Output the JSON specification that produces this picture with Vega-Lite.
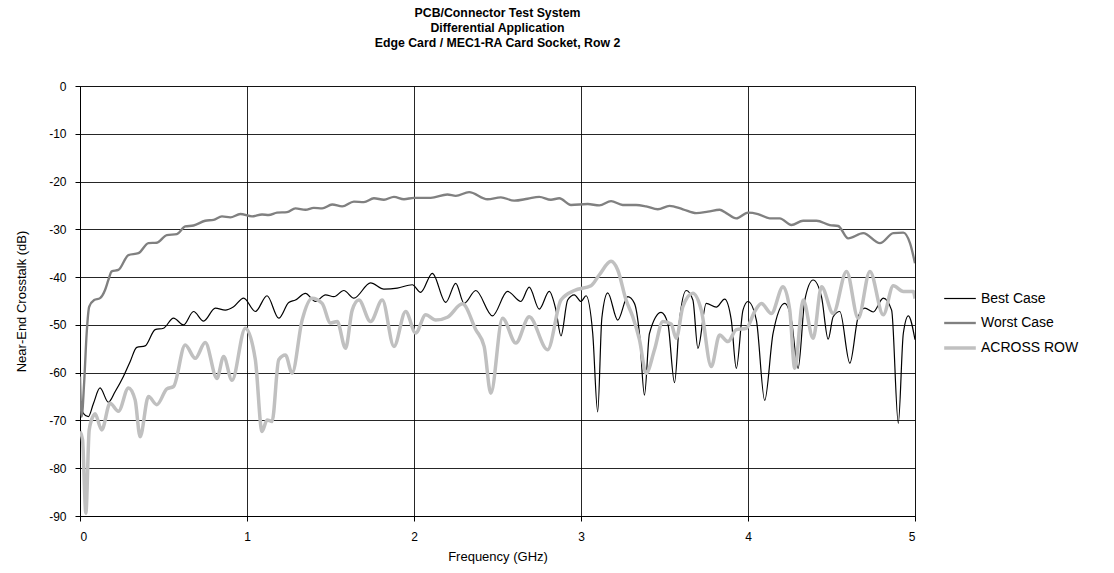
{
  "$schema": "https://vega.github.io/schema/vega-lite/v6.json",
  "autosize": {"type": "none"},
  "width": 835,
  "height": 430,
  "padding": {"left": 80, "top": 86, "right": 199, "bottom": 57},
  "background": "white",
  "title": {
    "text": ["PCB/Connector Test System", "Differential Application", "Edge Card / MEC1-RA Card Socket, Row 2"],
    "anchor": "middle",
    "font": "Liberation Sans",
    "fontSize": 12.3,
    "fontWeight": "bold",
    "lineHeight": 15,
    "color": "#000000",
    "offset": 31
  },
  "config": {
    "view": {"stroke": "#808080", "strokeWidth": 1},
    "axis": {
      "labelFont": "Liberation Sans",
      "titleFont": "Liberation Sans",
      "labelFontSize": 12,
      "titleFontSize": 13,
      "titleFontWeight": "normal",
      "labelColor": "#000000",
      "titleColor": "#000000",
      "domainColor": "#000000",
      "tickColor": "#000000",
      "gridColor": "#000000",
      "gridOpacity": 0.85,
      "tickSize": 5
    },
    "legend": {
      "labelFont": "Liberation Sans",
      "labelFontSize": 14,
      "labelColor": "#000000"
    }
  },
  "datasets": {
    "best": [
      {"f": 0.0, "db": -66.5}, {"f": 0.02, "db": -68.5}, {"f": 0.05, "db": -69.2}, {"f": 0.08, "db": -66.5},
      {"f": 0.12, "db": -63.2}, {"f": 0.17, "db": -66.2}, {"f": 0.21, "db": -64.0}, {"f": 0.26, "db": -60.8},
      {"f": 0.30, "db": -57.7}, {"f": 0.34, "db": -54.7}, {"f": 0.39, "db": -54.4}, {"f": 0.45, "db": -51.0},
      {"f": 0.50, "db": -50.7}, {"f": 0.56, "db": -48.6}, {"f": 0.62, "db": -50.0}, {"f": 0.68, "db": -47.2},
      {"f": 0.74, "db": -49.2}, {"f": 0.81, "db": -46.5}, {"f": 0.87, "db": -46.9}, {"f": 0.92, "db": -46.2},
      {"f": 0.98, "db": -44.4}, {"f": 1.05, "db": -47.2}, {"f": 1.12, "db": -43.9}, {"f": 1.19, "db": -48.6},
      {"f": 1.25, "db": -45.3}, {"f": 1.29, "db": -44.8}, {"f": 1.35, "db": -43.4}, {"f": 1.41, "db": -45.1},
      {"f": 1.47, "db": -43.7}, {"f": 1.52, "db": -44.1}, {"f": 1.58, "db": -42.8}, {"f": 1.64, "db": -44.4},
      {"f": 1.74, "db": -41.2}, {"f": 1.82, "db": -42.5}, {"f": 1.90, "db": -42.3}, {"f": 1.99, "db": -41.6},
      {"f": 2.04, "db": -43.2}, {"f": 2.11, "db": -39.2}, {"f": 2.19, "db": -45.3}, {"f": 2.25, "db": -41.3},
      {"f": 2.30, "db": -45.5}, {"f": 2.37, "db": -42.8}, {"f": 2.47, "db": -48.1}, {"f": 2.56, "db": -43.0},
      {"f": 2.64, "db": -45.1}, {"f": 2.69, "db": -42.1}, {"f": 2.75, "db": -46.7}, {"f": 2.81, "db": -43.0},
      {"f": 2.85, "db": -46.9}, {"f": 2.88, "db": -52.3}, {"f": 2.92, "db": -44.8}, {"f": 2.96, "db": -43.7},
      {"f": 3.00, "db": -45.1}, {"f": 3.03, "db": -43.9}, {"f": 3.07, "db": -51.7}, {"f": 3.10, "db": -68.2},
      {"f": 3.125, "db": -48.5}, {"f": 3.16, "db": -43.3}, {"f": 3.22, "db": -49.0}, {"f": 3.28, "db": -44.1},
      {"f": 3.32, "db": -45.5}, {"f": 3.35, "db": -51.8}, {"f": 3.38, "db": -64.7}, {"f": 3.41, "db": -51.8},
      {"f": 3.48, "db": -47.4}, {"f": 3.52, "db": -49.7}, {"f": 3.56, "db": -62.1}, {"f": 3.59, "db": -49.0},
      {"f": 3.63, "db": -42.8}, {"f": 3.67, "db": -44.8}, {"f": 3.70, "db": -54.9}, {"f": 3.75, "db": -45.5},
      {"f": 3.81, "db": -46.3}, {"f": 3.86, "db": -44.6}, {"f": 3.90, "db": -49.0}, {"f": 3.93, "db": -59.1},
      {"f": 3.97, "db": -46.9}, {"f": 4.00, "db": -45.1}, {"f": 4.05, "db": -49.0}, {"f": 4.10, "db": -65.8},
      {"f": 4.15, "db": -51.8}, {"f": 4.22, "db": -45.5}, {"f": 4.26, "db": -49.0}, {"f": 4.30, "db": -59.1},
      {"f": 4.34, "db": -44.8}, {"f": 4.39, "db": -40.6}, {"f": 4.44, "db": -44.1}, {"f": 4.48, "db": -53.0},
      {"f": 4.51, "db": -48.3}, {"f": 4.55, "db": -47.2}, {"f": 4.61, "db": -58.0}, {"f": 4.66, "db": -48.3},
      {"f": 4.70, "db": -46.5}, {"f": 4.75, "db": -47.3}, {"f": 4.81, "db": -44.4}, {"f": 4.86, "db": -46.9},
      {"f": 4.90, "db": -70.6}, {"f": 4.93, "db": -51.8}, {"f": 4.96, "db": -48.1}, {"f": 5.00, "db": -53.1}
    ],
    "worst": [
      {"f": 0.0, "db": -60.8}, {"f": 0.01, "db": -69.2}, {"f": 0.025, "db": -62.0}, {"f": 0.04, "db": -51.7},
      {"f": 0.055, "db": -46.2}, {"f": 0.085, "db": -44.8}, {"f": 0.12, "db": -44.4}, {"f": 0.15, "db": -42.7},
      {"f": 0.17, "db": -40.6}, {"f": 0.19, "db": -38.8}, {"f": 0.23, "db": -38.5}, {"f": 0.29, "db": -35.4},
      {"f": 0.35, "db": -35.0}, {"f": 0.41, "db": -32.9}, {"f": 0.46, "db": -32.8}, {"f": 0.52, "db": -31.2},
      {"f": 0.58, "db": -31.0}, {"f": 0.63, "db": -29.4}, {"f": 0.68, "db": -29.2}, {"f": 0.75, "db": -28.2},
      {"f": 0.80, "db": -28.0}, {"f": 0.85, "db": -27.3}, {"f": 0.90, "db": -27.5}, {"f": 0.96, "db": -26.8},
      {"f": 1.03, "db": -27.3}, {"f": 1.09, "db": -26.9}, {"f": 1.13, "db": -27.0}, {"f": 1.18, "db": -26.5},
      {"f": 1.24, "db": -26.4}, {"f": 1.29, "db": -25.6}, {"f": 1.35, "db": -25.9}, {"f": 1.40, "db": -25.5},
      {"f": 1.45, "db": -25.6}, {"f": 1.51, "db": -24.8}, {"f": 1.57, "db": -25.2}, {"f": 1.64, "db": -24.2},
      {"f": 1.70, "db": -24.3}, {"f": 1.76, "db": -23.5}, {"f": 1.82, "db": -23.8}, {"f": 1.88, "db": -23.2},
      {"f": 1.94, "db": -23.7}, {"f": 2.00, "db": -23.4}, {"f": 2.10, "db": -23.4}, {"f": 2.20, "db": -22.7},
      {"f": 2.25, "db": -23.0}, {"f": 2.33, "db": -22.2}, {"f": 2.44, "db": -23.7}, {"f": 2.52, "db": -23.3},
      {"f": 2.60, "db": -24.0}, {"f": 2.68, "db": -23.6}, {"f": 2.75, "db": -23.2}, {"f": 2.82, "db": -23.8},
      {"f": 2.87, "db": -23.5}, {"f": 2.94, "db": -24.9}, {"f": 3.04, "db": -24.7}, {"f": 3.11, "db": -25.0},
      {"f": 3.18, "db": -24.1}, {"f": 3.25, "db": -24.9}, {"f": 3.33, "db": -24.9}, {"f": 3.39, "db": -25.2},
      {"f": 3.46, "db": -25.8}, {"f": 3.53, "db": -25.1}, {"f": 3.61, "db": -25.8}, {"f": 3.69, "db": -26.6},
      {"f": 3.76, "db": -26.3}, {"f": 3.83, "db": -25.9}, {"f": 3.87, "db": -26.6}, {"f": 3.93, "db": -27.7},
      {"f": 4.00, "db": -26.5}, {"f": 4.06, "db": -26.8}, {"f": 4.13, "db": -27.7}, {"f": 4.19, "db": -27.7},
      {"f": 4.26, "db": -29.1}, {"f": 4.33, "db": -28.2}, {"f": 4.41, "db": -28.2}, {"f": 4.49, "db": -29.1},
      {"f": 4.54, "db": -29.3}, {"f": 4.60, "db": -31.9}, {"f": 4.69, "db": -30.8}, {"f": 4.79, "db": -32.9},
      {"f": 4.87, "db": -30.8}, {"f": 4.93, "db": -30.7}, {"f": 4.97, "db": -32.9}, {"f": 5.00, "db": -37.1}
    ],
    "across": [
      {"f": 0.0, "db": -72.3}, {"f": 0.015, "db": -74.0}, {"f": 0.035, "db": -89.4}, {"f": 0.055, "db": -72.0},
      {"f": 0.08, "db": -69.0}, {"f": 0.09, "db": -68.6}, {"f": 0.13, "db": -72.0}, {"f": 0.18, "db": -66.4},
      {"f": 0.23, "db": -68.1}, {"f": 0.29, "db": -63.2}, {"f": 0.33, "db": -65.7}, {"f": 0.36, "db": -73.4},
      {"f": 0.41, "db": -65.0}, {"f": 0.46, "db": -66.7}, {"f": 0.52, "db": -63.4}, {"f": 0.56, "db": -62.9},
      {"f": 0.63, "db": -54.2}, {"f": 0.69, "db": -57.0}, {"f": 0.75, "db": -53.7}, {"f": 0.82, "db": -61.2},
      {"f": 0.86, "db": -56.6}, {"f": 0.91, "db": -61.6}, {"f": 0.99, "db": -50.7}, {"f": 1.05, "db": -57.3},
      {"f": 1.09, "db": -72.3}, {"f": 1.12, "db": -69.9}, {"f": 1.15, "db": -70.2}, {"f": 1.19, "db": -57.3},
      {"f": 1.23, "db": -56.3}, {"f": 1.27, "db": -60.1}, {"f": 1.33, "db": -49.0}, {"f": 1.39, "db": -44.4},
      {"f": 1.45, "db": -45.5}, {"f": 1.50, "db": -49.6}, {"f": 1.54, "db": -49.3}, {"f": 1.59, "db": -54.9},
      {"f": 1.63, "db": -46.9}, {"f": 1.67, "db": -44.8}, {"f": 1.74, "db": -49.3}, {"f": 1.81, "db": -44.8},
      {"f": 1.88, "db": -54.5}, {"f": 1.95, "db": -47.2}, {"f": 2.01, "db": -51.7}, {"f": 2.07, "db": -47.9},
      {"f": 2.13, "db": -49.0}, {"f": 2.20, "db": -48.4}, {"f": 2.29, "db": -45.6}, {"f": 2.37, "db": -51.0},
      {"f": 2.42, "db": -54.5}, {"f": 2.46, "db": -64.3}, {"f": 2.53, "db": -48.6}, {"f": 2.61, "db": -53.8},
      {"f": 2.69, "db": -48.3}, {"f": 2.80, "db": -55.2}, {"f": 2.88, "db": -44.8}, {"f": 2.96, "db": -42.8},
      {"f": 3.06, "db": -41.8}, {"f": 3.11, "db": -39.5}, {"f": 3.18, "db": -36.7}, {"f": 3.22, "db": -38.5},
      {"f": 3.27, "db": -44.8}, {"f": 3.31, "db": -48.3}, {"f": 3.35, "db": -53.1}, {"f": 3.39, "db": -60.1},
      {"f": 3.44, "db": -55.2}, {"f": 3.49, "db": -49.3}, {"f": 3.54, "db": -49.8}, {"f": 3.57, "db": -52.8},
      {"f": 3.61, "db": -46.2}, {"f": 3.67, "db": -43.4}, {"f": 3.72, "db": -46.9}, {"f": 3.78, "db": -58.7},
      {"f": 3.83, "db": -52.1}, {"f": 3.88, "db": -53.5}, {"f": 3.93, "db": -51.0}, {"f": 3.99, "db": -50.7},
      {"f": 4.04, "db": -47.2}, {"f": 4.08, "db": -45.5}, {"f": 4.14, "db": -47.6}, {"f": 4.21, "db": -42.0},
      {"f": 4.25, "db": -46.9}, {"f": 4.28, "db": -59.1}, {"f": 4.33, "db": -44.8}, {"f": 4.39, "db": -52.8},
      {"f": 4.44, "db": -42.0}, {"f": 4.51, "db": -47.6}, {"f": 4.59, "db": -38.8}, {"f": 4.66, "db": -48.6},
      {"f": 4.73, "db": -38.8}, {"f": 4.81, "db": -47.9}, {"f": 4.87, "db": -41.8}, {"f": 4.93, "db": -43.0},
      {"f": 4.99, "db": -43.0}, {"f": 5.00, "db": -44.5}
    ]
  },
  "encoding": {
    "x": {
      "field": "f", "type": "quantitative",
      "scale": {"domain": [0, 5], "nice": false, "zero": false},
      "axis": {"values": [0, 1, 2, 3, 4, 5], "grid": true, "title": "Frequency (GHz)", "labelPadding": 10, "titlePadding": 8, "labelExpr": "'' + datum.value"}
    },
    "y": {
      "field": "db", "type": "quantitative",
      "scale": {"domain": [-90, 0], "nice": false},
      "axis": {"values": [0, -10, -20, -30, -40, -50, -60, -70, -80, -90], "grid": true, "title": "Near-End Crosstalk (dB)", "labelPadding": 9, "titlePadding": 20, "labelExpr": "'' + datum.value"}
    },
    "color": {
      "field": "series", "type": "nominal",
      "scale": {"domain": ["Best Case", "Worst Case", "ACROSS ROW"], "range": ["#000000", "#808080", "#c0c0c0"]},
      "legend": {"title": null, "orient": "none", "legendX": 862, "legendY": 196, "symbolType": "stroke", "symbolSize": 1000, "rowPadding": 0, "labelOffset": 3}
    },
    "strokeWidth": {
      "field": "series", "type": "nominal",
      "scale": {"domain": ["Best Case", "Worst Case", "ACROSS ROW"], "range": [1.2, 3.5, 4]},
      "legend": null
    }
  },
  "layer": [
    {
      "data": {"name": "best"},
      "transform": [{"calculate": "'Best Case'", "as": "series"}],
      "mark": {"type": "line", "interpolate": "monotone", "clip": true}
    },
    {
      "data": {"name": "worst"},
      "transform": [{"calculate": "'Worst Case'", "as": "series"}],
      "mark": {"type": "line", "interpolate": "monotone", "clip": true}
    },
    {
      "data": {"name": "across"},
      "transform": [{"calculate": "'ACROSS ROW'", "as": "series"}],
      "mark": {"type": "line", "interpolate": "monotone", "clip": true}
    }
  ]
}
